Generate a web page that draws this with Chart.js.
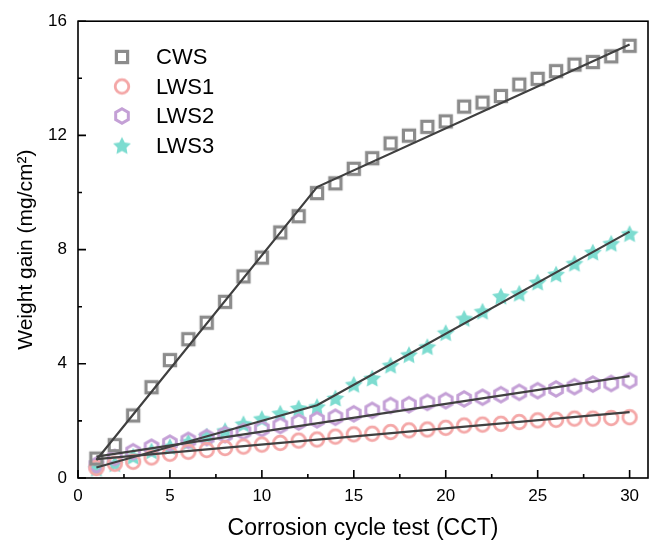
<!DOCTYPE html>
<html>
<head>
<meta charset="utf-8">
<style>
  html, body { margin: 0; padding: 0; background: #fff; }
  #wrap { width: 658px; height: 546px; }
</style>
<script src="https://cdn.jsdelivr.net/npm/chart.js@4.4.0/dist/chart.umd.min.js"></script>
</head>
<body>
<div id="wrap"><canvas id="weightChart" width="658" height="546"></canvas></div>
<script>
const cycles = [1, 2, 3, 4, 5, 6, 7, 8, 9, 10, 11, 12, 13, 14, 15, 16, 17, 18, 19, 20, 21, 22, 23, 24, 25, 26, 27, 28, 29, 30];
const cws  = [0.68, 1.15, 2.19, 3.18, 4.13, 4.86, 5.44, 6.17, 7.06, 7.72, 8.6, 9.17, 9.98, 10.32, 10.83, 11.2, 11.72, 11.99, 12.3, 12.49, 13.01, 13.15, 13.38, 13.78, 13.98, 14.25, 14.48, 14.57, 14.77, 15.14];
const lws1 = [0.35, 0.5, 0.57, 0.72, 0.85, 0.92, 0.98, 1.05, 1.1, 1.17, 1.23, 1.31, 1.35, 1.45, 1.53, 1.55, 1.61, 1.67, 1.7, 1.76, 1.84, 1.87, 1.9, 1.96, 2.02, 2.04, 2.08, 2.08, 2.1, 2.13];
const lws2 = [0.45, 0.72, 0.92, 1.08, 1.22, 1.32, 1.42, 1.52, 1.63, 1.73, 1.84, 1.96, 2.04, 2.13, 2.25, 2.37, 2.54, 2.57, 2.65, 2.71, 2.77, 2.83, 2.92, 3.0, 3.06, 3.12, 3.2, 3.29, 3.31, 3.41];
const lws3 = [0.34, 0.5, 0.76, 0.95, 1.1, 1.27, 1.47, 1.66, 1.9, 2.08, 2.27, 2.45, 2.5, 2.8, 3.28, 3.5, 3.95, 4.32, 4.6, 5.09, 5.59, 5.84, 6.37, 6.47, 6.86, 7.14, 7.52, 7.91, 8.22, 8.56];

// linear fit segments
const cwsFitX = [1, 13, 30];
const cwsFitY = [0.63, 10.19, 15.18];
const lws1FitX = [1, 30];
const lws1FitY = [0.66, 2.31];
const lws2FitX = [1, 30];
const lws2FitY = [0.75, 3.57];
const lws3FitX = [1, 13, 30];
const lws3FitY = [0.37, 2.55, 8.63];

const seriesNames = ['CWS', 'LWS1', 'LWS2', 'LWS3'];
const xTicks = [0, 5, 10, 15, 20, 25, 30];
const xMinor = [2.5, 7.5, 12.5, 17.5, 22.5, 27.5];
const yTicks = [0, 4, 8, 12, 16];
const yMinor = [2, 6, 10, 14];

const FONT = "'Liberation Sans', Arial, sans-serif";

function makeMarker(kind, color) {
    const c = document.createElement('canvas');
    c.width = 22; c.height = 22;
    const g = c.getContext('2d');
    const m = 11;
    g.strokeStyle = color;
    g.fillStyle = color;
    if (kind === 'square') {
        g.lineWidth = 3.2;
        g.strokeRect(m - 5.6, m - 5.6, 11.2, 11.2);
    } else if (kind === 'circle') {
        g.lineWidth = 2.8;
        g.beginPath();
        g.arc(m, m, 6.8, 0, Math.PI * 2);
        g.stroke();
    } else if (kind === 'hexagon') {
        g.lineWidth = 3;
        g.beginPath();
        for (let k = 0; k < 6; k++) {
            const a = -Math.PI / 2 + k * Math.PI / 3;
            const px = m + 7.3 * Math.cos(a), py = m + 7.3 * Math.sin(a);
            if (k === 0) g.moveTo(px, py); else g.lineTo(px, py);
        }
        g.closePath();
        g.stroke();
    } else if (kind === 'star') {
        g.beginPath();
        for (let k = 0; k < 10; k++) {
            const r = k % 2 === 0 ? 9.4 : 4.7;
            const a = -Math.PI / 2 + k * Math.PI / 5;
            const px = m + r * Math.cos(a), py = m + 0.8 + r * Math.sin(a);
            if (k === 0) g.moveTo(px, py); else g.lineTo(px, py);
        }
        g.closePath();
        g.fill();
    }
    return c;
}

const markers = [
    makeMarker('square', '#8c8c8c'),
    makeMarker('circle', '#f4a7a7'),
    makeMarker('hexagon', '#c4a0d6'),
    makeMarker('star', '#7ddcd0')
];

function pts(xs, ys) {
    return xs.map((x, i) => ({ x: x, y: ys[i] }));
}

function fitLine(xs, ys) {
    return {
        data: pts(xs, ys),
        showLine: true,
        borderColor: '#404040',
        borderWidth: 2.2,
        pointRadius: 0,
        order: 0
    };
}

function scatterSet(ys, idx) {
    return {
        label: seriesNames[idx],
        data: pts(cycles, ys),
        pointStyle: markers[idx],
        pointRadius: 9,
        showLine: false,
        order: 1
    };
}

const framePlugin = {
    id: 'frame',
    afterDatasetsDraw(chart) {
        const { ctx, chartArea: a, scales: { x, y } } = chart;
        ctx.save();
        ctx.strokeStyle = '#000';
        ctx.lineWidth = 1.6;
        ctx.strokeRect(a.left, a.top, a.right - a.left, a.bottom - a.top);
        ctx.beginPath();
        xTicks.forEach(v => { const p = x.getPixelForValue(v); ctx.moveTo(p, a.bottom); ctx.lineTo(p, a.bottom - 8); });
        xMinor.forEach(v => { const p = x.getPixelForValue(v); ctx.moveTo(p, a.bottom); ctx.lineTo(p, a.bottom - 4); });
        yTicks.forEach(v => { const p = y.getPixelForValue(v); ctx.moveTo(a.left, p); ctx.lineTo(a.left + 8, p); });
        yMinor.forEach(v => { const p = y.getPixelForValue(v); ctx.moveTo(a.left, p); ctx.lineTo(a.left + 4, p); });
        ctx.stroke();
        ctx.restore();
    }
};

const legendPlugin = {
    id: 'innerLegend',
    afterDraw(chart) {
        const ctx = chart.ctx;
        ctx.save();
        ctx.font = '22px ' + FONT;
        ctx.fillStyle = '#000';
        ctx.textBaseline = 'middle';
        seriesNames.forEach((name, i) => {
            const cy = 57 + i * 29.5;
            ctx.drawImage(markers[i], 122 - 11, cy - 11);
            ctx.fillText(name, 156, cy + 1);
        });
        ctx.restore();
    }
};

new Chart(document.getElementById('weightChart'), {
    type: 'scatter',
    data: {
        datasets: [
            fitLine(cwsFitX, cwsFitY),
            fitLine(lws1FitX, lws1FitY),
            fitLine(lws2FitX, lws2FitY),
            fitLine(lws3FitX, lws3FitY),
            scatterSet(cws, 0),
            scatterSet(lws1, 1),
            scatterSet(lws2, 2),
            scatterSet(lws3, 3)
        ]
    },
    options: {
        responsive: false,
        animation: false,
        events: [],
        layout: { padding: { left: 0, top: 16, right: 9, bottom: 0 } },
        plugins: { legend: { display: false }, tooltip: { enabled: false } },
        scales: {
            x: {
                type: 'linear',
                min: 0,
                max: 31,
                afterBuildTicks: s => { s.ticks = xTicks.map(v => ({ value: v })); },
                afterFit: s => { s.height = 68; },
                grid: { display: false, drawTicks: false },
                border: { display: false },
                ticks: { color: '#000', padding: 8, font: { family: FONT, size: 17 } },
                title: {
                    display: true,
                    text: 'Corrosion cycle test (CCT)',
                    color: '#000',
                    font: { family: FONT, size: 23 },
                    padding: { top: 0, bottom: 4 }
                }
            },
            y: {
                type: 'linear',
                min: 0,
                max: 16,
                afterBuildTicks: s => { s.ticks = yTicks.map(v => ({ value: v })); },
                afterFit: s => { s.width = 78; },
                grid: { display: false, drawTicks: false },
                border: { display: false },
                ticks: { color: '#000', padding: 11, font: { family: FONT, size: 17 } },
                title: {
                    display: true,
                    text: 'Weight gain (mg/cm\u00B2)',
                    color: '#000',
                    font: { family: FONT, size: 21 },
                    padding: { top: 14, bottom: 0 }
                }
            }
        }
    },
    plugins: [framePlugin, legendPlugin]
});
</script>
</body>
</html>
